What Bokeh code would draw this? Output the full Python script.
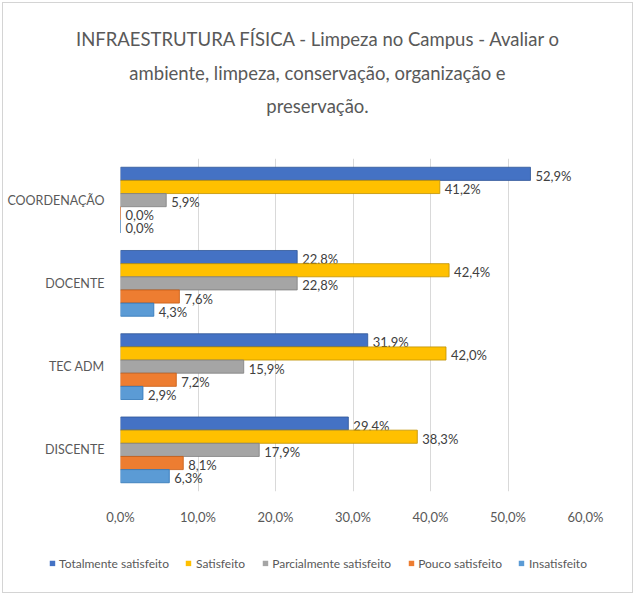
from bokeh.plotting import figure
from bokeh.models import (FactorRange, Legend, LegendItem, ColumnDataSource, Div,
                          CustomJSTickFormatter, FixedTicker)
from bokeh.layouts import column
from bokeh.transform import dodge
from bokeh.core.properties import value
from bokeh.embed import file_html
from bokeh.resources import INLINE

categories = ["COORDENAÇÃO", "DOCENTE", "TEC ADM", "DISCENTE"]
series = ["Totalmente satisfeito", "Satisfeito", "Parcialmente satisfeito",
          "Pouco satisfeito", "Insatisfeito"]
totalmente = [52.9, 22.8, 31.9, 29.4]
satisfeito = [41.2, 42.4, 42.0, 38.3]
parcialmente = [5.9, 22.8, 15.9, 17.9]
pouco = [0.0, 7.6, 7.2, 8.1]
insatisfeito = [0.0, 4.3, 2.9, 6.3]
x_ticks = [0, 10, 20, 30, 40, 50, 60]
title_lines = ["INFRAESTRUTURA FÍSICA - Limpeza no Campus - Avaliar o",
               "ambiente, limpeza, conservação, organização e",
               "preservação."]

values_list = [totalmente, satisfeito, parcialmente, pouco, insatisfeito]
colors = ["#4472C4", "#FFC000", "#A5A5A5", "#ED7D31", "#5B9BD5"]
edge = ["#2F5597", "#BF9000", "#7F7F7F", "#C55A11", "#2E75B6"]
offsets = [0.316, 0.158, 0.0, -0.158, -0.316]
FONT = "Lato"
GRAY = "#595959"

title_div = Div(
    text=('<div style="width:635px;text-align:center;font-family:Lato;font-size:18.5px;'
          'line-height:33.5px;color:#595959;padding-top:23px;margin:0;">'
          + "<br>".join(title_lines) + "</div>"),
    width=635, height=125, styles={"margin": "0", "padding": "0"})

p = figure(frame_width=465, frame_height=333, output_backend="svg", toolbar_location=None,
           y_range=FactorRange(factors=list(reversed(categories)), range_padding=0),
           x_range=(0, 60), min_border_left=120, min_border_right=50,
           min_border_top=33, min_border_bottom=40)
p.frame_align = False
p.border_fill_color = None
p.background_fill_color = None

for name, vals, col, ed, off in zip(series, values_list, colors, edge, offsets):
    src = ColumnDataSource(dict(cat=categories, val=vals,
                                label=[("%.1f" % v).replace(".", ",") + "%" for v in vals]))
    p.hbar(y=dodge("cat", off, range=p.y_range), right="val", left=0, height=0.158,
           source=src, fill_color=col, line_color=ed, line_width=0.8)
    p.text(x="val", y=dodge("cat", off, range=p.y_range), text="label", source=src,
           x_offset=5, y_offset=2, text_baseline="middle", text_align="left",
           text_font=value(FONT), text_font_size="13px", text_color="#404040")

p.xaxis.ticker = FixedTicker(ticks=x_ticks)
p.xaxis.formatter = CustomJSTickFormatter(code="return tick.toFixed(1).replace('.', ',') + '%';")
p.xaxis.axis_line_color = None
p.xaxis.major_tick_line_color = None
p.xaxis.minor_tick_line_color = None
p.xaxis.major_label_standoff = 11
p.xaxis.major_label_text_font = FONT
p.xaxis.major_label_text_font_size = "13px"
p.xaxis.major_label_text_color = GRAY

p.yaxis.axis_line_color = None
p.yaxis.major_tick_line_color = None
p.yaxis.major_label_standoff = 10
p.yaxis.major_label_text_font = FONT
p.yaxis.major_label_text_font_size = "12.5px"
p.yaxis.major_label_text_color = GRAY
p.yaxis.major_label_text_baseline = "top"

p.ygrid.grid_line_color = None
p.xgrid.grid_line_color = "#D9D9D9"
p.outline_line_color = None

lf = figure(width=635, height=64, output_backend="svg", toolbar_location=None,
            x_range=(0, 1), y_range=(0, 1), min_border=0,
            x_axis_location=None, y_axis_location=None)
lf.frame_align = False
lf.border_fill_color = None
lf.background_fill_color = None
lf.grid.visible = False
lf.outline_line_color = None
items = []
for name, col in zip(series, colors):
    r = lf.hbar(y=[-5], right=[-5], left=[-6], height=0.1, fill_color=col, line_color=None)
    items.append(LegendItem(label=name, renderers=[r]))
legend = Legend(items=items, orientation="horizontal", location="center",
                label_text_font=FONT, label_text_font_size="12px", label_text_color=GRAY,
                glyph_width=7, glyph_height=7, spacing=16, label_standoff=4,
                border_line_color=None, background_fill_alpha=0, margin=0, padding=2)
lf.add_layout(legend, "center")

layout = column(title_div, p, lf, spacing=0,
                styles={"outline": "1.5px solid #D4D4D4", "outline-offset": "-3px"})
open("out.html", "w").write(file_html(layout, INLINE))
